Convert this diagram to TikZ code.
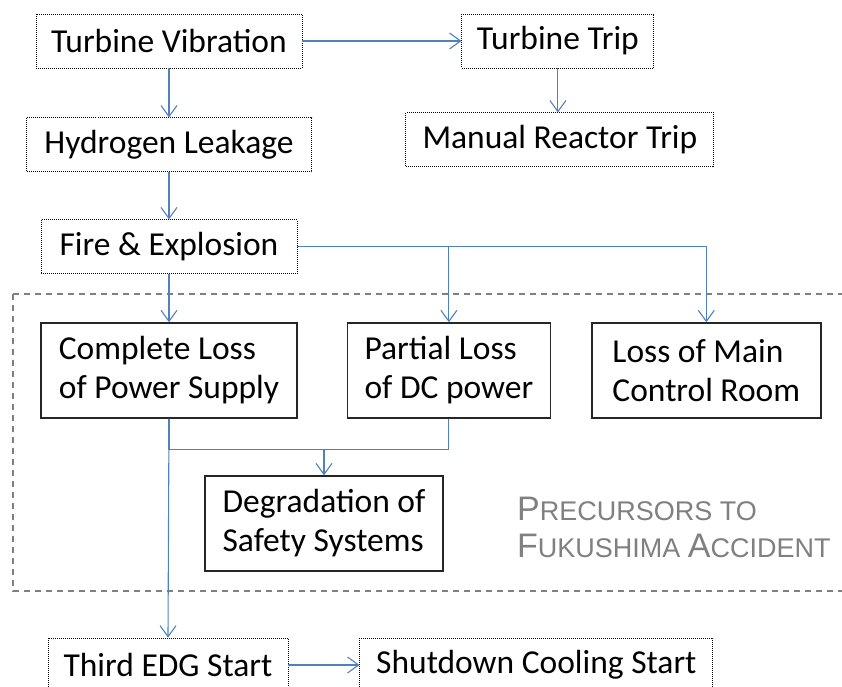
\documentclass[tikz,border=0pt]{standalone}
\usepackage{fontspec}
\setmainfont{Carlito}
\newfontfamily\notefont{Liberation Sans}
\usepackage{xcolor}
\definecolor{flowblue}{RGB}{79,129,189}
\usepackage{tikz}
\usetikzlibrary{arrows.meta, positioning}

\newcommand{\capletter}[1]{{\fontsize{34}{37}\selectfont #1}}

\begin{document}
\begin{tikzpicture}[
  x=1pt, y=1pt,
  font=\fontsize{33.5}{39}\selectfont,
  every node/.style={align=left},
  evt/.style={rectangle, draw=black, dash pattern=on 1pt off 1pt, line width=0.9pt,
    minimum height=54pt, inner sep=2pt},
  prec/.style={rectangle, draw=black!85, line width=1.4pt,
    minimum height=95pt, inner sep=2pt},
  zone/.style={draw=black!50, line width=1.4pt, dash pattern=on 6pt off 5pt},
  arr/.style={-{Straight Barb[length=11pt, width=16pt]}, line width=1.1pt, flowblue},
  lnk/.style={line width=1.1pt, flowblue}
]
\useasboundingbox (0,0) rectangle (842,-686);
\draw[zone] (13,-294) rectangle (852,-591);
\node[evt, minimum width=266pt] (tv) at (169,-41) {Turbine Vibration};
\node[evt, minimum width=192pt, right=159pt of tv] (tt) {Turbine Trip};
\node[evt, minimum width=285pt, below=49pt of tv] (hl) {Hydrogen Leakage};
\node[evt, minimum width=308pt, below=44pt of tt, xshift=2pt] (mrt) {Manual Reactor Trip};
\node[evt, minimum width=256pt, below=47pt of hl] (fe) {Fire \& Explosion};
\node[prec, minimum width=256pt, below=48pt of fe] (cl) {Complete Loss\\of Power Supply};
\node[prec, minimum width=203pt, right=49pt of cl] (pl) {Partial Loss\\of DC power};
\node[prec, minimum width=229pt, right=40pt of pl] (lm) {Loss of Main\\Control Room};
\node[prec, minimum width=238pt] (dg) at (324,-523.5) {Degradation of\\Safety Systems};
\node[evt, minimum width=240pt] (edg) at (168,-665) {Third EDG Start};
\node[evt, minimum width=353pt, right=71pt of edg] (sc) {Shutdown Cooling Start};
\node[anchor=north west, inner sep=0pt, text=black!50,
  font=\notefont\fontsize{27}{37}\selectfont] (note) at (517,-497)
  {\capletter{P}RECURSORS TO\\\capletter{F}UKUSHIMA \capletter{A}CCIDENT};
\draw[arr] (tv) -- (tt);
\draw[arr] (tv) -- (hl);
\draw[arr] (tt.south) -- (tt.south |- mrt.north);
\draw[arr] (hl) -- (fe);
\draw[arr] (fe) -- (cl);
\draw[arr] (fe.east) -| (pl.north);
\draw[arr] (fe.east) -| (lm.north);
\draw[arr] (cl.south) -- ++(0,-31) coordinate (merge) -| (dg.north);
\draw[lnk] (pl.south) |- (merge);
\draw[arr] (cl.south) -- (edg.north);
\draw[arr] (edg) -- (sc);
\end{tikzpicture}
\end{document}
